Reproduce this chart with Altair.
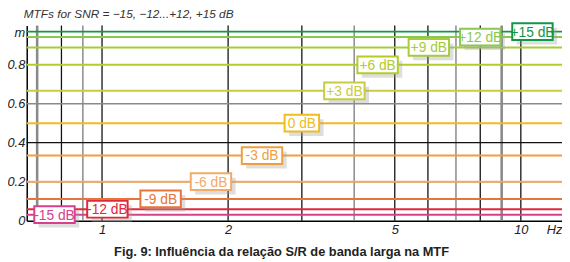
import altair as alt
import pandas as pd

# --- data ---
snr_labels = ["-15 dB", "-12 dB", "-9 dB", "-6 dB", "-3 dB", "0 dB",
              "+3 dB", "+6 dB", "+9 dB", "+12 dB", "+15 dB"]
mtf_values = [0.031, 0.059, 0.112, 0.200, 0.334, 0.500,
              0.666, 0.799, 0.888, 0.941, 0.969]
label_freqs = [0.77, 1.03, 1.38, 1.82, 2.41, 3.0, 3.79, 4.55, 6.03, 8.0, 10.66]
line_colors = ["#d6408f", "#e0283a", "#e8743c", "#f2aa66", "#eea040", "#f0bc20",
               "#c8cc40", "#b4cc28", "#a6cc3c", "#8cc850", "#109848"]

vgrid_freqs = [0.7, 0.8, 0.9, 1, 2, 3, 4, 5, 6, 7, 8, 9, 10]
vgrid_kind = ["grayw", "black", "gray", "black", "black", "black", "gray",
              "black", "black", "gray", "black", "grayw", "black"]
hgrid_values = [0.2, 0.4, 0.6]
hgrid_kind = ["black", "black", "gray"]

x_ticks = [1, 2, 5, 10, 12]
y_ticks = [0, 0.2, 0.4, 0.6, 0.8, 0.966]

title_text = "MTFs for SNR = \u221215, \u221212...+12, +15 dB"
caption_text = "Fig. 9: Influ\u00eancia da rela\u00e7\u00e3o S/R de banda larga na MTF"

FONT = "Liberation Sans"

lines_df = pd.DataFrame({"label": snr_labels, "mtf": mtf_values, "freq": label_freqs})
vgrid_df = pd.DataFrame({"freq": vgrid_freqs, "kind": vgrid_kind})
hgrid_df = pd.DataFrame({"mtf": hgrid_values, "kind": hgrid_kind})

xscale = alt.Scale(type="log", domain=[0.661, 12.54], nice=False)
yscale = alt.Scale(domain=[0, 1], nice=False)
cscale = alt.Scale(domain=snr_labels, range=line_colors)

grid_styles = {"black": ("#111111", 1.3), "gray": ("#8a8a8a", 1.5), "grayw": ("#8a8a8a", 2.6)}

xaxis = alt.Axis(values=x_ticks,
                 labelExpr="datum.value > 11 ? 'Hz' : datum.label",
                 labelFont=FONT, labelFontSize=13, labelFontStyle="italic",
                 labelColor="#222", labelPadding=3, ticks=False, grid=False,
                 labelOverlap=False,
                 domainColor="#000", domainWidth=1.5, labelFlush=False,
                 title=caption_text, titleFont=FONT, titleFontSize=13,
                 titleFontWeight="bold", titleColor="#222",
                 titleX=258, titleY=35, titleAlign="center",
                 titleBaseline="alphabetic", titleAnchor="start")
yaxis = alt.Axis(values=y_ticks,
                 labelExpr="datum.value > 0.9 ? 'm' : (datum.value == 0 ? '0' : format(datum.value, '.1f'))",
                 labelFont=FONT, labelFontSize=13, labelFontStyle="italic",
                 labelColor="#222", labelPadding=2, ticks=False, grid=False,
                 labelOverlap=False, labelFlush=False, labelBound=False,
                 domainColor="#000", domainWidth=1.5, title=None)

X = lambda f="freq:Q": alt.X(f, scale=xscale, axis=xaxis)
Y = lambda f="mtf:Q": alt.Y(f, scale=yscale, axis=yaxis)

layers = []
for kind, (col, w) in grid_styles.items():
    layers.append(alt.Chart(vgrid_df).transform_filter(f"datum.kind == '{kind}'")
                  .mark_rule(color=col, strokeWidth=w).encode(x=X()))
for kind, (col, w) in grid_styles.items():
    if kind not in hgrid_kind:
        continue
    layers.append(alt.Chart(hgrid_df).transform_filter(f"datum.kind == '{kind}'")
                  .mark_rule(color=col, strokeWidth=w).encode(y=Y()))

lines = alt.Chart(lines_df).mark_rule(strokeWidth=2).encode(
    y=Y(),
    color=alt.Color("label:N", scale=cscale, legend=None),
)

base = alt.Chart(lines_df).encode(x=X(), x2="freq:Q", y=Y(), y2="mtf:Q")
wide = base.transform_filter("datum.label != '0 dB'")
narrow = base.transform_filter("datum.label == '0 dB'")

shadow_w = wide.mark_rect(fill="#a0a0a0", opacity=0.35, xOffset=-16, x2Offset=25,
                          yOffset=-4, y2Offset=13)
shadow_n = narrow.mark_rect(fill="#a0a0a0", opacity=0.35, xOffset=-13, x2Offset=22,
                            yOffset=-4, y2Offset=13)
box_w = wide.mark_rect(fill="white", strokeWidth=2, xOffset=-20.5, x2Offset=20.5,
                       yOffset=-8.5, y2Offset=8.5).encode(
    stroke=alt.Stroke("label:N", scale=cscale, legend=None))
box_n = narrow.mark_rect(fill="white", strokeWidth=2, xOffset=-17.5, x2Offset=17.5,
                         yOffset=-8.5, y2Offset=8.5).encode(
    stroke=alt.Stroke("label:N", scale=cscale, legend=None))

texts = alt.Chart(lines_df).mark_text(font=FONT, fontSize=14, baseline="middle",
                                      align="center", dy=1).encode(
    x=X(), y=Y(),
    text="label:N",
    color=alt.Color("label:N", scale=cscale, legend=None),
)

layers += [lines, shadow_w, shadow_n, box_w, box_n, texts]

chart = alt.layer(*layers).properties(
    width=543, height=198,
    title=alt.TitleParams(title_text, anchor="start", frame="group", font=FONT,
                          fontSize=12, fontStyle="italic", fontWeight="normal",
                          color="#333", dx=-3, offset=1),
    autosize=alt.AutoSizeParams(type="none"),
    padding={"left": 19, "top": 16, "right": 0, "bottom": 40},
).configure_view(stroke=None)

chart.save("out.html", embed_options={"renderer": "svg", "actions": False})
